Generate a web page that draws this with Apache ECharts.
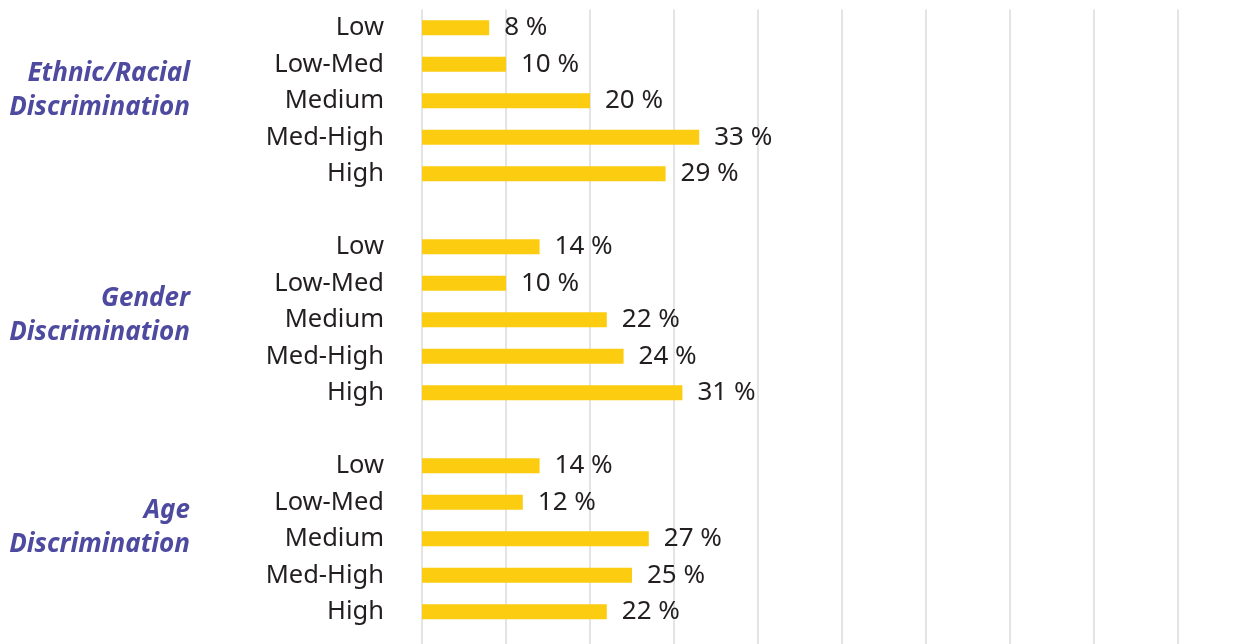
<!DOCTYPE html>
<html>
<head>
<meta charset="utf-8">
<script src="https://cdn.jsdelivr.net/npm/echarts@6/dist/echarts.min.js"></script>
<style>
  html, body { margin: 0; padding: 0; background: #fff; }
  #chart { width: 1251px; height: 644px; }
</style>
</head>
<body>
<div id="chart"></div>
<script>
// rows top to bottom, '' = spacer row between groups
let levels = ['Low', 'Low-Med', 'Medium', 'Med-High', 'High', '',
              'Low', 'Low-Med', 'Medium', 'Med-High', 'High', '',
              'Low', 'Low-Med', 'Medium', 'Med-High', 'High', ''];

let ethnicValues = [8, 10, 20, 33, 29];
let genderValues = [14, 10, 22, 24, 31];
let ageValues = [14, 12, 27, 25, 22];

let groupNames = ['Ethnic/Racial\nDiscrimination', 'Gender\nDiscrimination', 'Age\nDiscrimination'];

let barData = [].concat(ethnicValues, ['-'], genderValues, ['-'], ageValues, ['-']);

let groupY = [89, 314, 526];

let option = {
    animation: false,
    grid: {
        left: 422, width: 756, top: 9.5, height: 657,
        containLabel: false,
        outerBoundsMode: 'none'
    },
    xAxis: {
        type: 'value',
        min: 0,
        max: 90,
        interval: 10,
        axisLine: { show: false },
        axisTick: { show: false },
        axisLabel: { show: false },
        splitLine: { lineStyle: { color: '#e4e4e4', width: 2 } }
    },
    yAxis: {
        type: 'category',
        inverse: true,
        data: levels,
        axisLine: { show: false },
        axisTick: { show: false },
        axisLabel: {
            margin: 38,
            fontFamily: 'Noto Sans',
            fontSize: 25.5,
            color: '#231f20'
        }
    },
    series: [
        {
            type: 'bar',
            data: barData,
            barWidth: 15,
            itemStyle: { color: '#fbcc0f' },
            label: {
                show: true,
                position: 'right',
                distance: 15,
                fontFamily: 'Noto Sans',
                fontSize: 26,
                color: '#231f20',
                formatter: p => p.value + ' %'
            }
        }
    ],
    graphic: groupNames.map((name, i) => ({
        type: 'text',
        right: 1251 - 190,
        top: groupY[i] - 32,
        style: {
            text: name,
            textAlign: 'right',
            fontFamily: 'Noto Sans',
            fontSize: 26,
            fontWeight: 'bold',
            fontStyle: 'italic',
            lineHeight: 34,
            fill: '#4d4a9f'
        }
    }))
};

let chart = echarts.init(document.getElementById('chart'));
chart.setOption(option);
</script>
</body>
</html>
